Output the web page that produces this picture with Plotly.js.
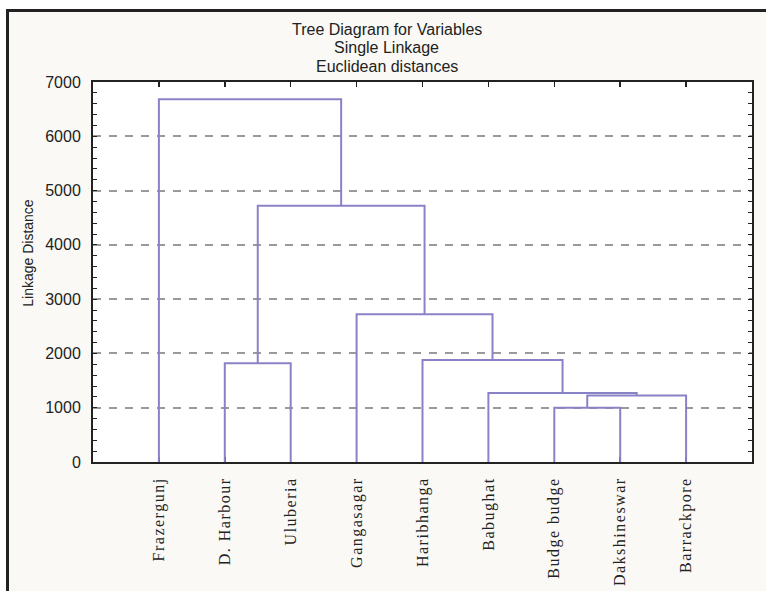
<!DOCTYPE html>
<html>
<head>
<meta charset="utf-8">
<script src="https://cdn.plot.ly/plotly-3.0.1.min.js"></script>
<style>
  html, body { margin: 0; padding: 0; background: #ffffff; }
  #frame { position: absolute; left: 6px; top: 9px; width: 820px; height: 700px;
           border: 3px solid #222; background: #faf9f5; }
  #chart { position: absolute; left: 0; top: 0; width: 766px; height: 591px; }
  .xtick text { letter-spacing: 1.5px; }
</style>
</head>
<body>
<div id="frame"></div>
<div id="chart"></div>
<script>
// Leaves (in dendrogram order)
const leafLabels = ["Frazergunj", "D. Harbour", "Uluberia", "Gangasagar", "Haribhanga",
                    "Babughat", "Budge budge", "Dakshineswar", "Barrackpore"];
// Linkage steps: cluster ids 0..8 are leaves, each merge creates id 9, 10, ...
const mergeLeft   = [6, 9, 5, 1, 4, 3, 12, 0];
const mergeRight  = [7, 8, 10, 2, 11, 13, 14, 15];
const mergeHeight = [1000, 1225, 1270, 1820, 1880, 2720, 4720, 6680];
const yTicks = [0, 1000, 2000, 3000, 4000, 5000, 6000, 7000];
const titleLines = ["Tree Diagram for Variables", "Single Linkage", "Euclidean distances"];

const nLeaves = leafLabels.length;
const leafPos = leafLabels.map((_, i) => i + 1);
const posX = leafPos.slice();
const posY = leafLabels.map(() => 0);
const lx = [], ly = [];
for (let k = 0; k < mergeLeft.length; k++) {
  const a = mergeLeft[k], b = mergeRight[k], h = mergeHeight[k];
  lx.push(posX[a], posX[a], posX[b], posX[b], null);
  ly.push(posY[a], h, h, posY[b], null);
  posX.push((posX[a] + posX[b]) / 2);
  posY.push(h);
}

const lineColor = "#8a82c6";
const data = [{
  type: "scatter", mode: "lines", x: lx, y: ly,
  line: { color: lineColor, width: 2 }, hoverinfo: "skip", showlegend: false,
  connectgaps: false
}];

const sans = "Liberation Sans, Arial, sans-serif";
const titleY = [1.137, 1.091, 1.041];
const annotations = titleLines.map((t, i) => ({
  text: t, showarrow: false, xref: "paper", yref: "paper",
  x: 0.446, y: titleY[i], xanchor: "center", yanchor: "middle",
  font: { family: sans, size: 16, color: "#222" }
}));
annotations.push({
  text: "Linkage Distance", textangle: -90, showarrow: false,
  xref: "paper", yref: "paper", x: -0.099, y: 0.55,
  xanchor: "center", yanchor: "middle",
  font: { family: sans, size: 14, color: "#222" }
});

const layout = {
  width: 766, height: 591,
  margin: { l: 93, r: 14, t: 82, b: 129, pad: 0 },
  paper_bgcolor: "rgba(0,0,0,0)",
  plot_bgcolor: "#ffffff",
  showlegend: false,
  xaxis: {
    range: [0, nLeaves + 1],
    tickmode: "array", tickvals: leafPos, ticktext: leafLabels,
    tickangle: -90,
    tickfont: { family: "Liberation Serif, Times New Roman, serif", size: 16, color: "#222" },
    ticks: "inside", ticklen: 5, tickwidth: 1.5, tickcolor: "#222",
    mirror: "ticks", showline: true, linecolor: "#222", linewidth: 2,
    showgrid: false, zeroline: false, layer: "below traces",
    ticklabelstandoff: 7, fixedrange: true
  },
  yaxis: {
    range: [0, 7000],
    tickmode: "array", tickvals: yTicks,
    tickfont: { family: sans, size: 16, color: "#222" },
    ticks: "inside", ticklen: 4, tickwidth: 1, tickcolor: "#222",
    mirror: "ticks", showline: true, linecolor: "#222", linewidth: 2,
    showgrid: true, gridcolor: "#9a9a9a", gridwidth: 2, griddash: "8px,8px",
    zeroline: false, ticklabelstandoff: 7,
    minor: { dtick: 200, ticks: "inside", ticklen: 4, tickwidth: 1, tickcolor: "#222", showgrid: false },
    fixedrange: true
  },
  annotations: annotations
};

Plotly.newPlot("chart", data, layout, { staticPlot: true, displayModeBar: false });
</script>
</body>
</html>
